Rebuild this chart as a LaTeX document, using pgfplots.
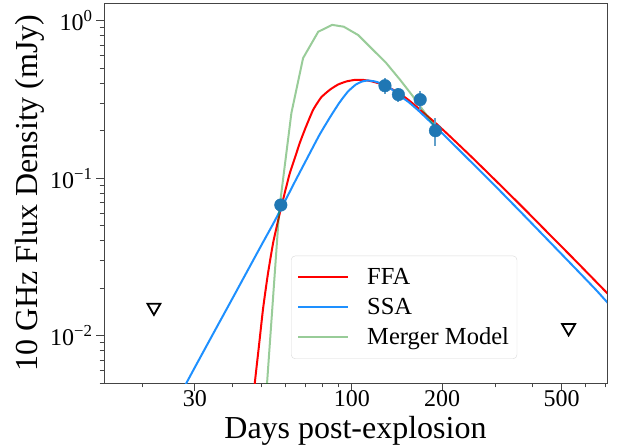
\documentclass[border=0pt]{standalone}
\usepackage{fontspec}
\setmainfont{Liberation Serif}
\usepackage{pgfplots}
\pgfplotsset{compat=1.18}
\definecolor{ffa}{HTML}{FF0000}
\definecolor{ssa}{HTML}{1E90FF}
\definecolor{mpl}{HTML}{1F77B4}
\definecolor{merger}{HTML}{008000}
\definecolor{frame}{HTML}{444444}
\begin{document}
\begin{tikzpicture}
\useasboundingbox (0,0) rectangle (623pt,447pt);
\begin{axis}[
  at={(104pt,64pt)}, anchor=south west,
  scale only axis, width=503pt, height=380pt,
  xmode=log, ymode=log,
  xmin=14.93, xmax=709, ymin=0.005, ymax=1.294,
  axis line style={frame, line width=0.9pt},
  tick align=outside, tick pos=left,
  every tick/.style={frame, line width=0.9pt},
  major tick length=8pt, minor tick length=4.5pt,
  xtick={30,100,200,500}, xticklabels={30,100,200,500},
  minor xtick={20,40,50,60,70,80,90,300,400,600,700},
  ytick={0.01,0.1,1},
  yticklabels={10\textsuperscript{−2},10\textsuperscript{−1},10\textsuperscript{0}},
  minor ytick={0.005,0.006,0.007,0.008,0.009,0.02,0.03,0.04,0.05,0.06,0.07,0.08,0.09,0.2,0.3,0.4,0.5,0.6,0.7,0.8,0.9},
  ticklabel style={font=\fontsize{24}{28}\selectfont},
  xticklabel style={yshift=4pt},
  xlabel={Days post-explosion},
  ylabel={10 GHz Flux Density (mJy)},
  label style={font=\fontsize{32}{36}\selectfont},
  xlabel style={at={(axis description cs:0.5,-0.125)}, anchor=center},
  ylabel style={at={(axis description cs:-0.148,0.5)}, anchor=center},
  legend style={at={(axis description cs:0.3718,0.0632)}, anchor=south west,
    draw=black!15, rounded corners=4pt, fill=white, fill opacity=0.8, text opacity=1,
    font=\fontsize{24.5}{28}\selectfont, inner xsep=6pt, inner ysep=10.5pt, row sep=8pt,
    /tikz/every odd column/.append style={column sep=16pt}},
  legend cell align=left,
  legend image code/.code={\draw[#1] (0pt,0pt) -- (50pt,0pt);},
]
% FFA
\addplot[ffa, line width=2pt, smooth, tension=0.3] coordinates {
(46,0.0026) (47.5,0.005) (49,0.0085) (50.6,0.0148) (52.5,0.0245) (54.7,0.039)
(57.6,0.0604) (60,0.083) (62.1,0.107) (64.5,0.133) (67.1,0.1675) (70,0.207)
(74.3,0.271) (79,0.325) (84.5,0.364) (90,0.393) (96,0.411) (102,0.420)
(108,0.421) (115,0.414) (124,0.398) (133,0.375) (143,0.349) (155,0.312)
(168,0.274) (190,0.224) (210,0.188) (250,0.137) (300,0.0975) (372,0.065)
(450,0.045) (550,0.0306) (650,0.0221) (720,0.0181)};
\addlegendentry{FFA}
% SSA
\addplot[ssa, line width=2pt, smooth, tension=0.3] coordinates {
(25,0.0033) (28.1,0.005) (30,0.0063) (35,0.0108) (40,0.0172) (45,0.026)
(50,0.0376) (55,0.0523) (60,0.072) (65,0.097) (70,0.127) (78,0.188)
(85,0.247) (91,0.302) (97,0.354) (103,0.392) (108,0.410) (113,0.417)
(120,0.410) (127,0.395) (135,0.370) (143,0.338) (155,0.303) (168,0.265)
(190,0.212) (210,0.176) (250,0.1265) (300,0.0895) (372,0.0589) (450,0.0405)
(550,0.0273) (650,0.0196) (720,0.0158)};
\addlegendentry{SSA}
% Merger model
\addplot[merger, draw opacity=0.4, line width=2pt] coordinates {
(51.5,0.0035) (57.3,0.063) (62.9,0.259) (68.8,0.578) (77.3,0.85) (86,0.94)
(94,0.915) (105,0.81) (116,0.67) (130,0.54) (145,0.42) (160,0.33)
(177,0.253) (192,0.205)};
\addlegendentry{Merger Model}
% detections
\addplot[forget plot, only marks, mark=*, mark size=6.3pt, color=mpl,
  mark options={draw=mpl, fill=mpl},
  error bars/.cd, y dir=both, y explicit, error mark=none,
  error bar style={mpl!70, line width=2pt}] coordinates {
(58,0.0675) +- (0,0.004)
(129,0.386) +- (0,0.045)
(143,0.339) +- (0,0.035)
(169,0.315) +- (0,0.044)
(190,0.200) +- (0,0.040)};
% upper limits
\addplot[forget plot, only marks, mark=triangle, mark size=7.5pt,
  mark options={rotate=180, draw=black, line width=1.8pt, fill=none}] coordinates {
(21.9,0.0151) (528,0.0112)};
\end{axis}
\end{tikzpicture}
\end{document}
